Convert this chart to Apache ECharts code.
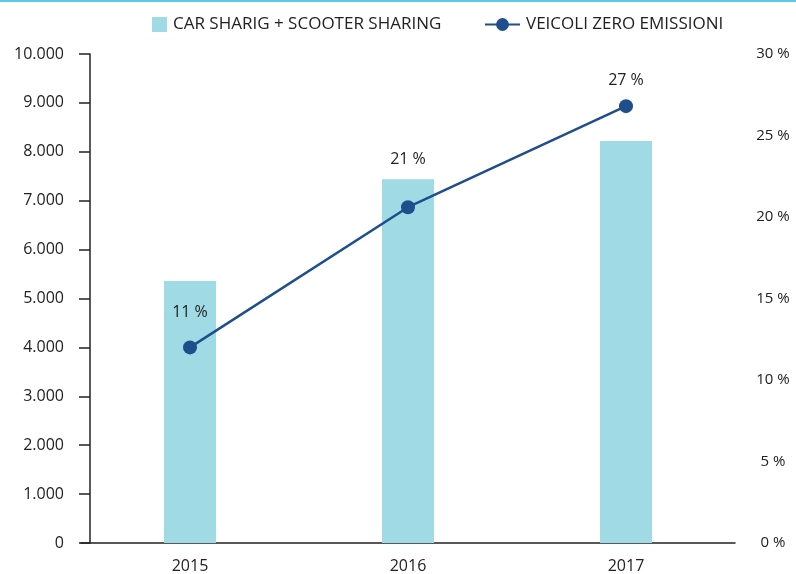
<!DOCTYPE html>
<html>
<head>
<meta charset="utf-8">
<script src="https://cdn.jsdelivr.net/npm/echarts@6/dist/echarts.min.js"></script>
<style>
html, body { margin: 0; padding: 0; background: #fff; }
#container { width: 796px; height: 574px; }
</style>
</head>
<body>
<div id="container"></div>
<script>
var years = ['2015', '2016', '2017'];
var sharing = [5360, 7440, 8220];
var zeroEmission = [12, 20.6, 26.8];
var zeroEmissionLabels = ['11 %', '21 %', '27 %'];

var labelGap = [20, 33, 11];
var font = 'Open Sans';

var dom = document.getElementById('container');
var myChart = echarts.init(dom);

function thousands(v) {
    return String(v).replace(/\B(?=(\d{3})+(?!\d))/g, '.');
}

var lineData = zeroEmission.map(function (v, i) {
    return {
        value: v,
        label: { distance: labelGap[i], formatter: zeroEmissionLabels[i] }
    };
});

var option = {
    animation: false,
    textStyle: { fontFamily: font },
    graphic: [{
        type: 'rect',
        shape: { x: 0, y: 0, width: 796, height: 2 },
        style: { fill: '#5bc8e4' }
    }],
    legend: [{
        top: 11,
        left: 147,
        itemWidth: 15,
        itemHeight: 15,
        itemGap: 0,
        textStyle: { fontFamily: font, fontSize: 17, color: '#222', padding: [0, 0, 0, 1] },
        data: [{ name: 'CAR SHARIG + SCOOTER SHARING', icon: 'rect' }]
    }, {
        top: 11,
        left: 479,
        itemWidth: 35,
        itemHeight: 16,
        textStyle: { fontFamily: font, fontSize: 17, color: '#222', padding: [0, 0, 0, 1] },
        data: ['VEICOLI ZERO EMISSIONI']
    }],
    grid: { left: 81, right: 61, top: 54, bottom: 31 },
    xAxis: {
        type: 'category',
        data: years,
        axisLine: { lineStyle: { color: '#222', width: 1.5 } },
        axisTick: { show: false },
        axisLabel: { color: '#222', fontSize: 16, margin: 15 }
    },
    yAxis: [{
        type: 'value',
        min: 0,
        max: 10000,
        interval: 1000,
        offset: -9,
        axisLine: { show: true, lineStyle: { color: '#222', width: 1.5 } },
        axisTick: { show: true, inside: false, length: 11, lineStyle: { color: '#222', width: 1.5 } },
        splitLine: { show: false },
        axisLabel: { color: '#222', fontSize: 16, margin: 26, formatter: thousands }
    }, {
        type: 'value',
        min: 0,
        max: 30,
        interval: 5,
        axisLine: { show: false },
        axisTick: { show: false },
        splitLine: { show: false },
        axisLabel: { color: '#222', fontSize: 15, margin: 38, align: 'center', formatter: '{value} %' }
    }],
    series: [{
        name: 'CAR SHARIG + SCOOTER SHARING',
        type: 'bar',
        barWidth: 52,
        itemStyle: { color: '#a0dae5' },
        data: sharing
    }, {
        name: 'VEICOLI ZERO EMISSIONI',
        type: 'line',
        yAxisIndex: 1,
        symbol: 'circle',
        symbolSize: 14,
        lineStyle: { color: '#1f4e8c', width: 2.5 },
        itemStyle: { color: '#1f4e8c' },
        label: { show: true, position: 'top', color: '#222', fontSize: 16 },
        data: lineData
    }]
};

if (option && typeof option === 'object') {
    myChart.setOption(option, true);
}
</script>
</body>
</html>
